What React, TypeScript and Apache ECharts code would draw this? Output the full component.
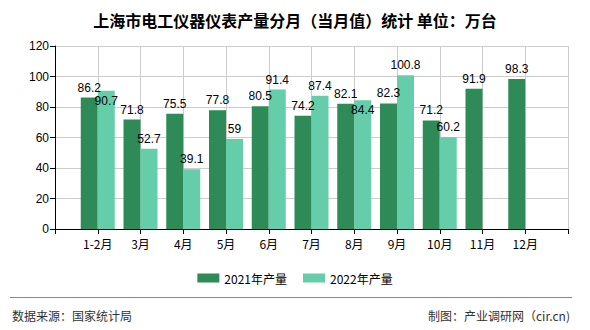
import React, { useEffect, useRef } from "react";
import * as echarts from "echarts";

const categories = ["1-2月", "3月", "4月", "5月", "6月", "7月", "8月", "9月", "10月", "11月", "12月"];
const values2021 = [86.2, 71.8, 75.5, 77.8, 80.5, 74.2, 82.1, 82.3, 71.2, 91.9, 98.3];
const values2022: (number | null)[] = [90.7, 52.7, 39.1, 59, 91.4, 87.4, 84.4, 100.8, 60.2, null, null];
const shiftedLabels2022 = [0, 6]; // indices whose labels sit lower to avoid overlap
const yTicks = { min: 0, max: 120, interval: 20 };

const labelFont = { fontSize: 12, color: "#000", fontFamily: "Liberation Sans, Arial, sans-serif" };

export default function App() {
  const ref = useRef<HTMLDivElement>(null);
  useEffect(() => {
    const chart = echarts.init(ref.current!, null, { renderer: "svg" });
    const axisCats = ["", ...categories, ""];
    const pad = (arr: any[]) => [null, ...arr, null];
    const d2022 = values2022.map((v, i) =>
      shiftedLabels2022.includes(i) && v != null ? { value: v, label: { offset: [0, 20] } } : v
    );
    chart.setOption({
      animation: false,
      backgroundColor: "#fff",
      textStyle: { fontFamily: "Noto Sans CJK SC, sans-serif" },
      title: {
        text: "上海市电工仪器仪表产量分月（当月值）统计 单位：万台",
        left: "center",
        top: 7,
        textStyle: { fontSize: 16, fontWeight: "bold", color: "#000", fontFamily: "Noto Sans CJK SC, sans-serif" },
      },
      legend: {
        top: 267,
        left: "center",
        itemWidth: 22,
        itemHeight: 9,
        itemGap: 16,
        icon: "rect",
        textStyle: { fontSize: 12, color: "#000" },
        data: ["2021年产量", "2022年产量"],
      },
      grid: { left: 55, right: 22, top: 46, bottom: 101 },
      xAxis: {
        type: "category",
        data: axisCats,
        boundaryGap: false,
        axisLine: { lineStyle: { color: "#000" } },
        axisTick: { show: true, lineStyle: { color: "#000" }, length: 5 },
        axisLabel: { interval: 0, fontSize: 12, color: "#000", margin: 8 },
        splitLine: { show: true, lineStyle: { color: "#ccc" } },
      },
      yAxis: {
        type: "value",
        min: yTicks.min,
        max: yTicks.max,
        interval: yTicks.interval,
        axisLine: { show: true, lineStyle: { color: "#000" } },
        axisTick: { show: true, lineStyle: { color: "#000" }, length: 5 },
        axisLabel: { fontSize: 12, color: "#000", margin: 6, fontFamily: "Liberation Sans, Arial, sans-serif" },
        splitLine: { show: true, lineStyle: { color: "#ccc" } },
      },
      series: [
        {
          name: "2021年产量",
          type: "bar",
          data: pad(values2021),
          barWidth: 17,
          barGap: "0%",
          itemStyle: { color: "#2e8b57" },
          label: { show: true, position: "top", distance: 4, ...labelFont },
        },
        {
          name: "2022年产量",
          type: "bar",
          data: pad(d2022),
          barWidth: 17,
          barGap: "0%",
          itemStyle: { color: "#66cdaa" },
          label: { show: true, position: "top", distance: 4, ...labelFont },
        },
      ],
      graphic: [
        { type: "line", shape: { x1: 10, y1: 297.5, x2: 572, y2: 297.5 }, style: { stroke: "#888", lineWidth: 1 } },
        {
          type: "text",
          x: 12,
          y: 315,
          style: { text: "数据来源：国家统计局", fontSize: 12, fill: "#333", textVerticalAlign: "middle", fontFamily: "Noto Sans CJK SC, sans-serif" },
        },
        {
          type: "text",
          x: 570,
          y: 315,
          style: { text: "制图：产业调研网（cir.cn)", fontSize: 12, fill: "#333", textAlign: "right", textVerticalAlign: "middle", fontFamily: "Noto Sans CJK SC, sans-serif" },
        },
      ],
    });
    return () => chart.dispose();
  }, []);
  return <div ref={ref} style={{ position: "fixed", left: 0, top: 0, width: 590, height: 330 }} />;
}
